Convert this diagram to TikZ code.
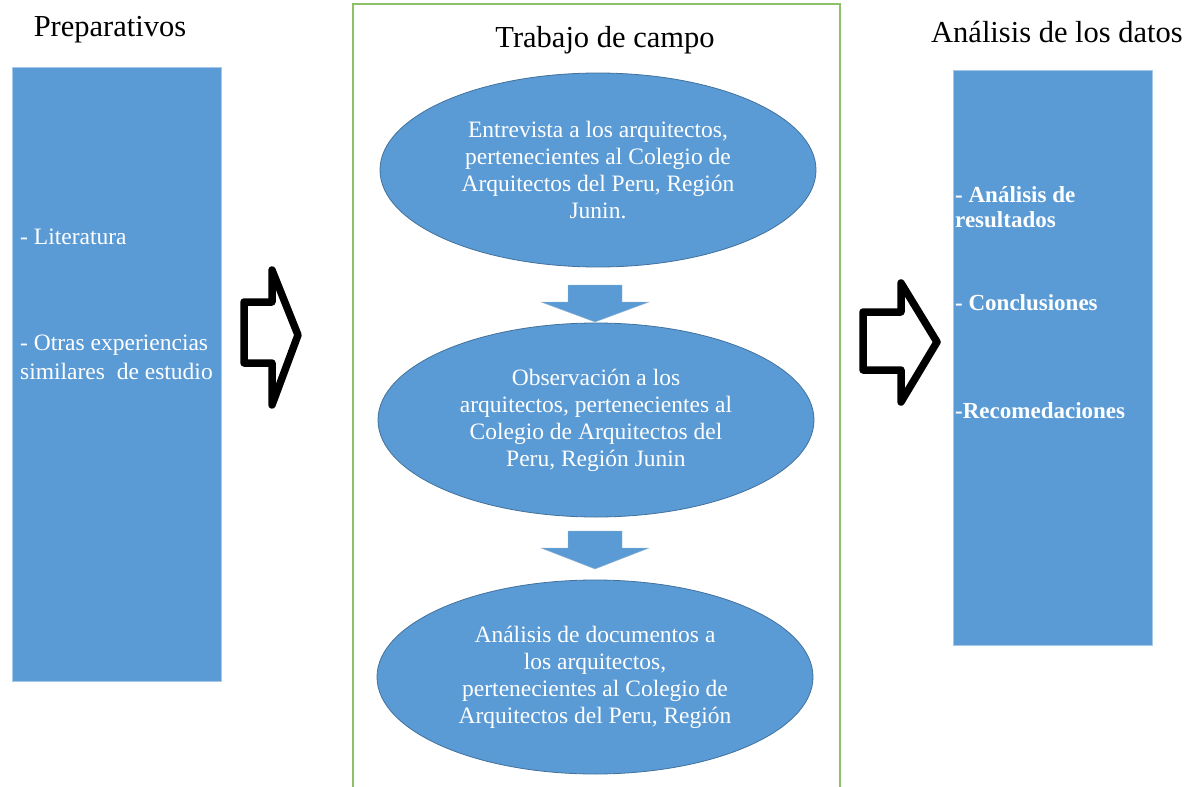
\documentclass[tikz,border=0pt]{standalone}
\usepackage{fontspec}
\setmainfont{Liberation Serif}
\usetikzlibrary{shapes.geometric,positioning}
\definecolor{ofblue}{HTML}{5B9BD5}
\definecolor{ofedge}{HTML}{41719C}
\definecolor{ofgreen}{HTML}{8CC168}

\tikzset{
  caja/.style = {fill=ofblue, draw=ofblue!55!white, line width=0.8pt, inner sep=0pt},
  ovalo/.style = {ellipse, fill=ofblue, draw=ofedge, line width=0.8pt, inner sep=0pt,
    minimum width=436pt, minimum height=194pt, text=white, align=center,
    font=\fontsize{23.5}{27}\selectfont},
  texto/.style = {text=white, inner sep=0pt, align=left, font=\fontsize{23.5}{29}\selectfont},
  negrita/.style = {texto, font=\fontsize{23}{25}\selectfont\bfseries},
  titulo/.style = {inner sep=0pt, font=\fontsize{30.5}{34}\selectfont},
  flecha/.style = {draw=black, fill=white, line width=7.5pt, line join=round},
  bajada/.style = {fill=ofblue, draw=ofedge!50, line width=0.4pt}
}

\begin{document}
\begin{tikzpicture}[x=1pt, y=-1pt]
\useasboundingbox (0,0) rectangle (1200,787);

\draw[ofgreen, line width=2pt] (353,800) -- (353,4) -- (840,4) -- (840,800);

\node[titulo] (prep) at (110,30) {Preparativos};
\node[titulo] (campo) at (605,40) {Trabajo de campo};
\node[titulo] (datos) at (1057,32) {Análisis de los datos};

\node[caja, anchor = north west, minimum width=209pt, minimum height=614pt] (izq) at (12,67) {};
\node[caja, anchor = north west, minimum width=199pt, minimum height=575pt] (der) at (953,70) {};

\node[texto, anchor = west] (lit) at (20,237) {- Literatura};
\node[texto, anchor = west] (otras) at (20,357) {- Otras experiencias\\similares \ de estudio};

\node[negrita, anchor = west] (res) at (955,207) {- Análisis de\\resultados};
\node[negrita, anchor = west] (conc) at (955,303) {- Conclusiones};
\node[negrita, anchor = west] (reco) at (955,411) {-Recomedaciones};

\node[ovalo] (entre) at (598,170) {Entrevista a los arquitectos,\\pertenecientes al Colegio de\\Arquitectos del Peru, Región\\Junin.};
\node[ovalo] (obs) at (596,420) {Observación a los\\arquitectos, pertenecientes al\\Colegio de Arquitectos del\\Peru, Región Junin};
\node[ovalo] (doc) at (595,677) {Análisis de documentos a\\los arquitectos,\\pertenecientes al Colegio de\\Arquitectos del Peru, Región};

\fill[bajada] (568,285) -- (622,285) -- (622,302) -- (649,302) -- (595,322)
  -- (541,302) -- (568,302) -- cycle;
\fill[bajada] (568,531) -- (622,531) -- (622,548) -- (649,548) -- (595,569)
  -- (541,548) -- (568,548) -- cycle;

\draw[flecha] (244,302) -- (272,302) -- (272,270) -- (298,335) -- (272,405)
  -- (272,363) -- (244,363) -- cycle;
\draw[flecha] (863,312) -- (901,312) -- (901,283) -- (937,342) -- (901,402)
  -- (901,370) -- (863,370) -- cycle;
\end{tikzpicture}
\end{document}
